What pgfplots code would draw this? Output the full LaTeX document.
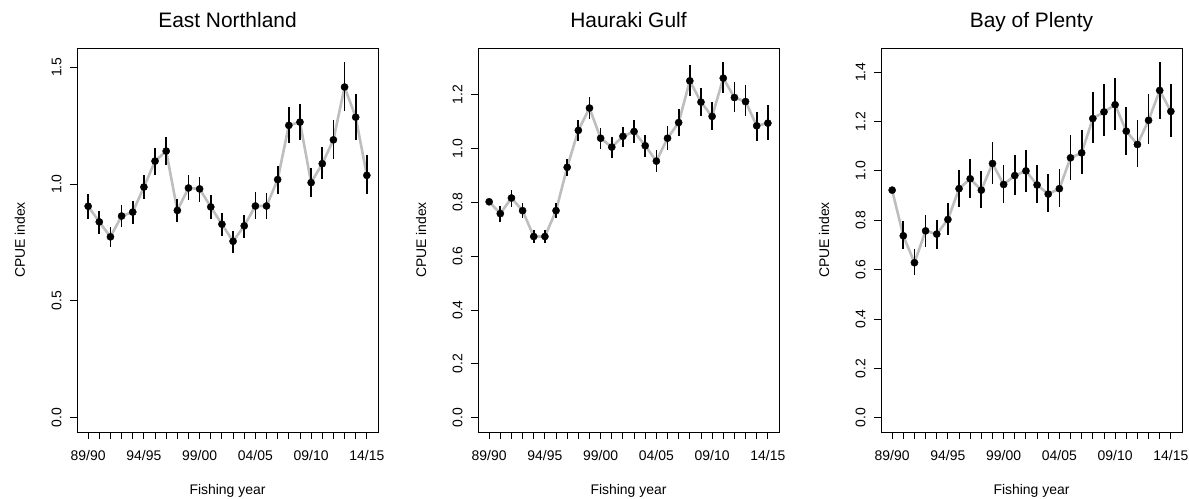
\documentclass[border=0pt]{standalone}
\usepackage{fontspec}
\setmainfont{Liberation Sans}
\usepackage{pgfplots}
\usepackage{pgfplotstable}
\pgfplotsset{compat=1.18}

\pgfplotstableread{
x y lo hi
1 0.905 0.852 0.956
2 0.838 0.788 0.885
3 0.774 0.731 0.816
4 0.863 0.816 0.909
5 0.880 0.830 0.926
6 0.987 0.934 1.037
7 1.098 1.040 1.155
8 1.141 1.083 1.201
9 0.887 0.838 0.934
10 0.983 0.930 1.037
11 0.979 0.925 1.030
12 0.902 0.852 0.954
13 0.828 0.779 0.876
14 0.755 0.707 0.798
15 0.821 0.771 0.869
16 0.906 0.852 0.964
17 0.906 0.849 0.962
18 1.019 0.956 1.078
19 1.251 1.175 1.328
20 1.265 1.187 1.343
21 1.006 0.944 1.070
22 1.087 1.023 1.158
23 1.189 1.105 1.272
24 1.415 1.312 1.521
25 1.286 1.189 1.386
26 1.037 0.959 1.123
}\eastnorthland

\pgfplotstableread{
x y lo hi
1 0.802 0.796 0.808
2 0.758 0.725 0.785
3 0.816 0.782 0.847
4 0.769 0.741 0.797
5 0.673 0.649 0.698
6 0.673 0.649 0.698
7 0.769 0.741 0.797
8 0.930 0.896 0.960
9 1.067 1.026 1.106
10 1.150 1.109 1.190
11 1.038 0.998 1.076
12 1.005 0.964 1.041
13 1.045 1.005 1.079
14 1.063 1.022 1.106
15 1.010 0.967 1.051
16 0.953 0.911 0.995
17 1.038 0.993 1.084
18 1.096 1.045 1.146
19 1.251 1.193 1.310
20 1.172 1.119 1.224
21 1.119 1.067 1.171
22 1.261 1.205 1.320
23 1.189 1.134 1.245
24 1.174 1.121 1.236
25 1.084 1.028 1.137
26 1.094 1.032 1.162
}\haurakigulf

\pgfplotstableread{
x y lo hi
1 0.922 0.918 0.926
2 0.737 0.682 0.796
3 0.628 0.578 0.682
4 0.757 0.692 0.821
5 0.744 0.682 0.803
6 0.803 0.740 0.868
7 0.928 0.854 1.005
8 0.968 0.891 1.050
9 0.922 0.848 1.000
10 1.030 0.946 1.117
11 0.945 0.868 1.023
12 0.981 0.902 1.063
13 1.000 0.915 1.084
14 0.943 0.868 1.023
15 0.906 0.834 0.987
16 0.928 0.852 1.009
17 1.053 0.965 1.144
18 1.073 0.987 1.167
19 1.212 1.113 1.320
20 1.239 1.140 1.351
21 1.268 1.165 1.378
22 1.161 1.066 1.259
23 1.107 1.016 1.205
24 1.205 1.108 1.313
25 1.326 1.212 1.441
26 1.241 1.138 1.353
}\bayofplenty

\pgfplotsset{
  cpue/.style={
    scale only axis,
    width=301bp, height=384bp,
    anchor=south west,
    xmin=0, xmax=27,
    axis line style={black, line width=0.9bp},
    tick style={black, line width=0.9bp},
    tick align=outside,
    major tick length=7bp,
    tick pos=left,
    xtick={1,...,26},
    xticklabels={89/90,,,,,94/95,,,,,99/00,,,,,04/05,,,,,09/10,,,,,14/15},
    ticklabel style={font=\fontsize{14}{16}\selectfont},
    /pgf/number format/assume math mode=true,
    /pgf/number format/.cd, fixed, fixed zerofill, precision=1, /pgfplots/.cd,
    xticklabel shift=8bp,
    yticklabel style={rotate=90, anchor=south},
    yticklabel shift=5bp,
    title style={at={(axis description cs:0.5,1)}, anchor=base, yshift=15bp, font=\fontsize{21}{24}\selectfont},
    every axis x label/.style={at={([yshift=-62bp]axis description cs:0.5,0)}, anchor=base, font=\fontsize{14}{16}\selectfont},
    every axis y label/.style={at={([xshift=-52bp]axis description cs:0,0.5)}, rotate=90, anchor=base, font=\fontsize{14}{16}\selectfont},
    xlabel={Fishing year},
    ylabel={CPUE index},
    clip=false,
  },
  cpueline/.style={color={rgb,255:red,190;green,190;blue,190}, line width=2.6bp, no marks},
  cpuepts/.style={only marks, black, mark=*, mark size=3.6bp,
    error bars/.cd, y dir=both, y explicit, error mark=none,
    error bar style={line width=1.7bp, black}},
}

\begin{document}
\begin{tikzpicture}
\useasboundingbox (0,0) rectangle (1189bp,499bp);

\begin{axis}[cpue, at={(77bp,67bp)}, ymin=-0.061, ymax=1.582,
  ytick={0,0.5,1,1.5}, title={East Northland}]
\addplot[cpueline] table[x=x,y=y] {\eastnorthland};
\addplot[cpuepts] table[x=x,y=y,
  y error plus expr=\thisrow{hi}-\thisrow{y},
  y error minus expr=\thisrow{y}-\thisrow{lo}] {\eastnorthland};
\end{axis}

\begin{axis}[cpue, at={(478bp,67bp)}, ymin=-0.053, ymax=1.373,
  ytick={0,0.2,...,1.21}, title={Hauraki Gulf}]
\addplot[cpueline] table[x=x,y=y] {\haurakigulf};
\addplot[cpuepts] table[x=x,y=y,
  y error plus expr=\thisrow{hi}-\thisrow{y},
  y error minus expr=\thisrow{y}-\thisrow{lo}] {\haurakigulf};
\end{axis}

\begin{axis}[cpue, at={(881bp,67bp)}, ymin=-0.058, ymax=1.498,
  ytick={0,0.2,...,1.41}, title={Bay of Plenty}]
\addplot[cpueline] table[x=x,y=y] {\bayofplenty};
\addplot[cpuepts] table[x=x,y=y,
  y error plus expr=\thisrow{hi}-\thisrow{y},
  y error minus expr=\thisrow{y}-\thisrow{lo}] {\bayofplenty};
\end{axis}
\end{tikzpicture}
\end{document}
